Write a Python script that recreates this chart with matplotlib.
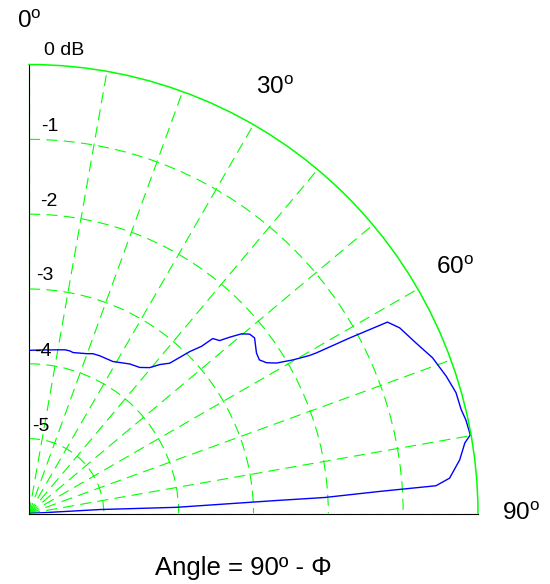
import numpy as np
import matplotlib
matplotlib.use("Agg")
import matplotlib.pyplot as plt

plt.rcParams['font.family'] = ['Liberation Sans', 'DejaVu Sans']
plt.rcParams['mathtext.fontset'] = 'custom'
plt.rcParams['mathtext.rm'] = 'Liberation Sans'
plt.rcParams['lines.scale_dashes'] = False

# measured pattern: angle from broadside (deg) and level (dB)
theta_deg = [0, 3.8, 12.4, 14.1, 15.3, 19.8, 21.8, 24.2, 28.9, 34.0, 37.2, 39.6,
             41.3, 43.1, 44.0, 44.8, 45.9, 46.4, 47.8, 48.7, 49.8, 50.9, 52.1,
             54.8, 56.3, 57.6, 58.7, 59.8, 60.6, 60.8, 61.3, 61.9, 63.4, 66.2,
             68.9, 71.8, 74.2, 76.5, 77.9, 79.9, 80.8, 82.9, 85.2, 86.1, 86.4,
             86.9, 87.0, 87.6, 86.8, 88.0]
level_db = [-3.82, -3.81, -3.76, -3.76, -3.77, -3.73, -3.70, -3.69, -3.68, -3.59,
            -3.55, -3.47, -3.35, -3.25, -3.10, -2.95, -2.79, -2.61, -2.56, -2.43,
            -2.28, -2.20, -2.18, -2.28, -2.30, -2.24, -2.13, -1.92, -1.70, -1.60,
            -1.12, -0.57, -0.46, -0.35, -0.22, -0.13, -0.07, -0.06, -0.03, -0.01,
            -0.10, -0.20, -0.36, -0.55, -1.31, -2.04, -2.71, -4.03, -5.05, -6.0]

ring_db = [-5, -4, -3, -2, -1]
ring_labels = ['-5', '-4', '-3', '-2', '-1']
spoke_deg = np.arange(0, 91, 10)
angle_label_deg = [0, 30, 60, 90]

green = '#00ff00'

fig = plt.figure(figsize=(5.5, 5.84), dpi=100)
ax = fig.add_axes([29 / 550, 70 / 584, 449 / 550, 450 / 584], projection='polar')
ax.set_theta_zero_location('N')
ax.set_theta_direction(-1)
ax.set_thetamin(0)
ax.set_thetamax(90)
ax.set_rlim(-6, 0)

ax.set_xticks(np.radians(spoke_deg))
ax.set_xticklabels([])
ax.set_yticks(ring_db)
ax.set_yticklabels([])
ax.grid(True, color=green, linestyle=(0, (8, 4.5)), linewidth=0.8)
ax.tick_params(axis='x', length=3, color=green, direction='in')
ax.tick_params(axis='y', length=0)
ax.spines['polar'].set_color(green)
ax.spines['polar'].set_linewidth(1.1)
for s in ['start', 'end', 'inner']:
    ax.spines[s].set_visible(False)

ax.plot(np.radians(theta_deg), level_db, color='#0000ff', linewidth=1.0)

# radial level labels
offs = {-5: (11.5, 12), -4: (13.5, 12.5), -3: (15.5, 13.5), -2: (19.5, 13), -1: (20.5, 12.5)}
for r, lab in zip(ring_db, ring_labels):
    ax.annotate(lab, xy=(0, r), xytext=offs[r], textcoords='offset pixels',
                ha='center', va='center', fontsize=14)
ax.annotate('0 dB', xy=(0, 0), xytext=(35.5, 14), textcoords='offset pixels',
            ha='center', va='center', fontsize=14)

for a in angle_label_deg:
    ax.text(np.radians(a), 0.57, '%d$^{\\rm o}$' % a, ha='center', va='center',
            fontsize=17.5)

fig.text(243 / 550, 1 - 568 / 584, 'Angle = 90º - Φ', ha='center', va='center',
         fontsize=18.5)

fig.savefig('out.png', dpi=100)
